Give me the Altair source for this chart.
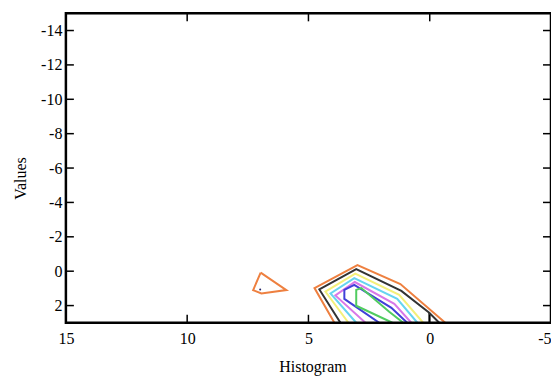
import altair as alt
import pandas as pd

# Axis ticks
x_ticks = [15, 10, 5, 0, -5]
y_ticks = [-14, -12, -10, -8, -6, -4, -2, 0, 2]

# Contour polylines (data units)
orange_main_x = [3.93, 4.75, 2.98, 1.21, -0.64]
orange_main_y = [3.0, 0.98, -0.35, 0.75, 3.0]
orange_small_x = [6.97, 7.28, 6.94, 5.91, 6.97]
orange_small_y = [0.08, 1.10, 1.30, 1.10, 0.08]
black_main_x = [3.68, 4.55, 3.03, 1.17, 0.02, -0.39]
black_main_y = [3.0, 1.06, -0.12, 1.15, 2.42, 3.0]
black_stub_x = [0.02, 0.02]
black_stub_y = [2.42, 3.0]
yellow_x = [3.35, 4.30, 3.07, 1.26, 0.27]
yellow_y = [3.0, 1.19, 0.14, 1.38, 3.0]
cyan_x = [3.03, 4.09, 3.11, 1.34, 0.51]
cyan_y = [3.0, 1.29, 0.40, 1.61, 3.0]
magenta_x = [2.65, 3.89, 3.09, 1.46, 0.76]
magenta_y = [3.0, 1.41, 0.63, 1.90, 3.0]
blue_x = [2.08, 3.52, 3.52, 3.11, 1.58, 0.93]
blue_y = [3.0, 1.61, 1.09, 0.80, 2.13, 3.0]
green_x = [1.54, 3.03, 3.03, 2.82, 1.67, 1.09]
green_y = [3.0, 2.01, 1.09, 0.98, 2.36, 3.0]
dot_x = [6.99]
dot_y = [1.07]

segments = [
    ("orange_main", "orange", orange_main_x, orange_main_y),
    ("orange_small", "orange", orange_small_x, orange_small_y),
    ("black_main", "black", black_main_x, black_main_y),
    ("black_stub", "black", black_stub_x, black_stub_y),
    ("yellow", "yellow", yellow_x, yellow_y),
    ("cyan", "cyan", cyan_x, cyan_y),
    ("magenta", "magenta", magenta_x, magenta_y),
    ("blue", "blue", blue_x, blue_y),
    ("green", "green", green_x, green_y),
]
rows = []
for seg, lvl, xs_, ys_ in segments:
    for i, (a, b) in enumerate(zip(xs_, ys_)):
        rows.append({"seg": seg, "level": lvl, "order": i, "x": a, "y": b})
lines_df = pd.DataFrame(rows)

level_names = ["orange", "black", "yellow", "cyan", "magenta", "blue", "green"]
level_colors = ["#ee8040", "#333333", "#f4f07a", "#66d4f0", "#d878e8", "#4040d8", "#50cc60"]

W, H = 486, 310
FONT = "Liberation Serif"

xs = alt.Scale(domain=[-5, 15], reverse=True, nice=False, zero=False)
ys = alt.Scale(domain=[-15, 3], reverse=True, nice=False, zero=False)

x_axis = alt.Axis(values=x_ticks, ticks=False, domain=False, grid=False, title="Histogram",
                  labelFont=FONT, labelFontSize=16, labelColor="black", labelPadding=8,
                  labelExpr="'' + datum.value", labelOverlap=False,
                  labelAlign={"condition": {"test": "datum.value == -5", "value": "right"}, "value": "center"},
                  titleFont=FONT, titleFontSize=16, titleFontWeight="normal", titleColor="black",
                  titlePadding=12, labelFlush=False, titleX=W / 2 + 4)
y_axis = alt.Axis(values=y_ticks, ticks=False, domain=False, grid=False, title="Values",
                  labelFont=FONT, labelFontSize=16, labelColor="black", labelPadding=4,
                  labelExpr="'' + datum.value", labelOverlap=False,
                  titleFont=FONT, titleFontSize=16, titleFontWeight="normal", titleColor="black",
                  titlePadding=12, labelFlush=False, titleY=H / 2 + 10)

X = lambda f: alt.X(f, scale=xs, axis=x_axis)
Y = lambda f: alt.Y(f, scale=ys, axis=y_axis)

lines = alt.Chart(lines_df).mark_line(strokeWidth=2, clip=True, interpolate="linear").encode(
    x=X("x:Q"),
    y=Y("y:Q"),
    color=alt.Color("level:N", scale=alt.Scale(domain=level_names, range=level_colors), legend=None),
    detail="seg:N",
    order="order:Q",
)

dot = alt.Chart(pd.DataFrame({"x": dot_x, "y": dot_y})).mark_point(
    filled=True, size=4, color="#222266", opacity=1
).encode(x=X("x:Q"), y=Y("y:Q"))

yt = pd.DataFrame({"y": y_ticks})
xt = pd.DataFrame({"x": x_ticks[1:-1]})
left_ticks = alt.Chart(yt).mark_rule(color="black", strokeWidth=1.5).encode(
    y=Y("y:Q"), x=alt.value(0), x2=alt.value(8))
right_ticks = alt.Chart(yt).mark_rule(color="black", strokeWidth=1.5).encode(
    y=Y("y:Q"), x=alt.value(W - 8), x2=alt.value(W))
bottom_ticks = alt.Chart(xt).mark_rule(color="black", strokeWidth=1.5).encode(
    x=X("x:Q"), y=alt.value(H - 8), y2=alt.value(H))
top_ticks = alt.Chart(xt).mark_rule(color="black", strokeWidth=1.5).encode(
    x=X("x:Q"), y=alt.value(0), y2=alt.value(8))

frame = alt.Chart(pd.DataFrame({"f": [0]})).mark_rect(
    fill="white", fillOpacity=0, stroke="black", strokeWidth=2.5
).encode(x=alt.value(0), x2=alt.value(W), y=alt.value(0), y2=alt.value(H))

chart = alt.layer(lines, dot, left_ticks, right_ticks, bottom_ticks, top_ticks, frame).properties(
    width=W, height=H,
    autosize=alt.AutoSizeParams(type="none"),
    padding={"left": 58, "top": 5, "right": 0, "bottom": 58},
).configure_view(stroke=None).configure(background="white")

chart.save("out.html", embed_options={"renderer": "svg", "actions": False})
